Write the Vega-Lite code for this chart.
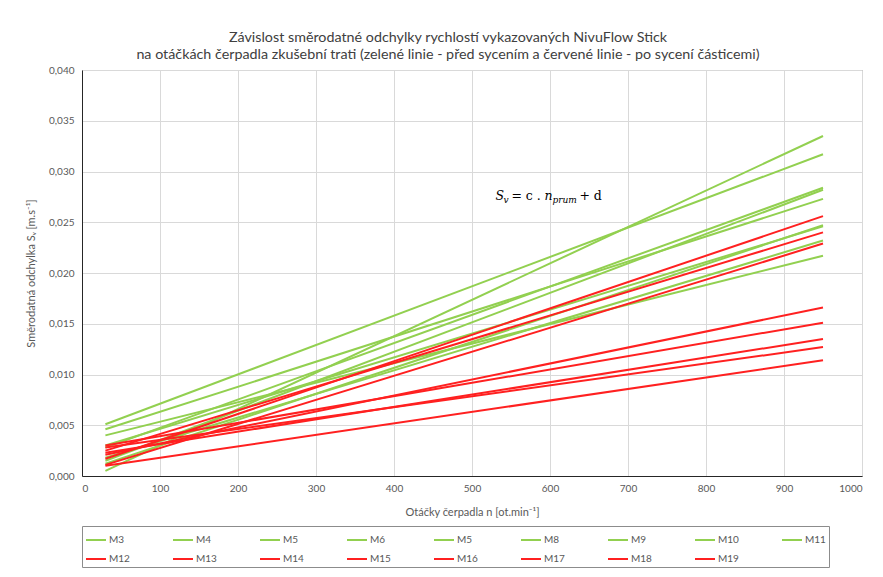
{
  "$schema": "https://vega.github.io/schema/vega-lite/v6.json",
  "autosize": "none",
  "width": 780,
  "height": 406,
  "padding": {"left": 82, "top": 70, "right": 21, "bottom": 101},
  "background": "white",
  "config": {
    "font": "Lato",
    "view": {"stroke": "#8c8c8c", "strokeWidth": 1},
    "axis": {"gridColor": "#d9d9d9", "gridWidth": 1, "ticks": false, "labelColor": "#595959", "labelFontSize": 10, "titleColor": "#595959", "titleFontWeight": "normal", "titleFontSize": 11, "domainColor": "#262626", "labelFont": "Lato", "titleFont": "Lato"}
  },
  "title": {
    "text": ["Závislost směrodatné odchylky rychlostí vykazovaných NivuFlow Stick", "na otáčkách čerpadla zkušební trati (zelené linie - před sycením a červené linie - po sycení částicemi)"],
    "font": "Lato", "fontSize": 14.3, "fontWeight": "normal", "color": "#404040", "anchor": "middle", "offset": 3, "lineHeight": 17, "dx": -24
  },
  "datasets": {
    "lines": [
      {"s": "M3", "n": 30, "sv": 0.0051}, {"s": "M3", "n": 950, "sv": 0.0317},
      {"s": "M4", "n": 30, "sv": 0.0046}, {"s": "M4", "n": 950, "sv": 0.0273},
      {"s": "M5", "n": 30, "sv": 0.0040}, {"s": "M5", "n": 950, "sv": 0.0217},
      {"s": "M6", "n": 30, "sv": 0.0005}, {"s": "M6", "n": 950, "sv": 0.0335},
      {"s": "M7", "n": 30, "sv": 0.0028}, {"s": "M7", "n": 950, "sv": 0.0284},
      {"s": "M8", "n": 30, "sv": 0.0015}, {"s": "M8", "n": 950, "sv": 0.0282},
      {"s": "M9", "n": 30, "sv": 0.0012}, {"s": "M9", "n": 950, "sv": 0.0247},
      {"s": "M10", "n": 30, "sv": 0.0018}, {"s": "M10", "n": 950, "sv": 0.0232},
      {"s": "M11", "n": 30, "sv": 0.0030}, {"s": "M11", "n": 950, "sv": 0.0246},
      {"s": "M12", "n": 30, "sv": 0.0017}, {"s": "M12", "n": 950, "sv": 0.0256},
      {"s": "M13", "n": 30, "sv": 0.0025}, {"s": "M13", "n": 950, "sv": 0.0240},
      {"s": "M14", "n": 30, "sv": 0.0011}, {"s": "M14", "n": 950, "sv": 0.0229},
      {"s": "M15", "n": 30, "sv": 0.0021}, {"s": "M15", "n": 950, "sv": 0.0166},
      {"s": "M16", "n": 30, "sv": 0.0030}, {"s": "M16", "n": 950, "sv": 0.0151},
      {"s": "M17", "n": 30, "sv": 0.0023}, {"s": "M17", "n": 950, "sv": 0.0135},
      {"s": "M18", "n": 30, "sv": 0.0028}, {"s": "M18", "n": 950, "sv": 0.0127},
      {"s": "M19", "n": 30, "sv": 0.0010}, {"s": "M19", "n": 950, "sv": 0.0114}
    ],
    "eq": [
      {"part": "S", "n": 530, "sv": 0.0272}
    ]
  },
  "layer": [
    {
      "data": {"name": "lines"},
      "transform": [{"filter": {"field": "s", "oneOf": ["M3", "M4", "M5", "M6", "M7", "M8", "M9", "M10", "M11"]}}],
      "mark": {"type": "line", "strokeWidth": 2},
      "encoding": {
        "x": {"field": "n", "type": "quantitative", "scale": {"domain": [0, 1000], "nice": false},
          "axis": {"values": [0, 100, 200, 300, 400, 500, 600, 700, 800, 900, 1000], "format": "d", "title": "Otáčky čerpadla n [ot.min⁻¹]", "labelPadding": 7, "titlePadding": 13}},
        "y": {"field": "sv", "type": "quantitative", "scale": {"domain": [0, 0.04], "nice": false},
          "axis": {"values": [0, 0.005, 0.01, 0.015, 0.02, 0.025, 0.03, 0.035, 0.04], "labelExpr": "replace(format(datum.value, '.3f'), '.', ',')", "title": "Směrodatná odchylka Sᵥ [m.s⁻¹]", "labelPadding": 8, "titlePadding": 12}},
        "color": {"field": "s", "type": "nominal",
          "scale": {"domain": ["M3", "M4", "M5", "M6", "M7", "M8", "M9", "M10", "M11", "M12", "M13", "M14", "M15", "M16", "M17", "M18", "M19"],
            "range": ["#92d050", "#92d050", "#92d050", "#92d050", "#92d050", "#92d050", "#92d050", "#92d050", "#92d050", "#ff2020", "#ff2020", "#ff2020", "#ff2020", "#ff2020", "#ff2020", "#ff2020", "#ff2020"]},
          "legend": {"title": null, "orient": "bottom", "direction": "horizontal", "columns": 9, "symbolType": "stroke", "symbolStrokeWidth": 2, "symbolSize": 400, "labelFontSize": 10, "labelColor": "#595959", "labelOffset": 2, "columnPadding": 39, "rowPadding": 3, "padding": 3, "strokeColor": "#8c8c8c", "offset": 9, "labelExpr": "datum.label == 'M7' ? 'M5' : datum.label"}}
      }
    },
    {
      "data": {"name": "lines"},
      "transform": [{"filter": {"field": "s", "oneOf": ["M12", "M13", "M14", "M15", "M16", "M17", "M18", "M19"]}}],
      "mark": {"type": "line", "strokeWidth": 2},
      "encoding": {
        "x": {"field": "n", "type": "quantitative"},
        "y": {"field": "sv", "type": "quantitative"},
        "color": {"field": "s", "type": "nominal"}
      }
    },
    {
      "data": {"name": "eq"},
      "layer": [
        {"mark": {"type": "text", "text": "S", "font": "DejaVu Serif", "fontStyle": "italic", "fontSize": 12.5, "align": "left", "baseline": "alphabetic", "color": "#000000"}},
        {"mark": {"type": "text", "text": "v", "font": "DejaVu Serif", "fontStyle": "italic", "fontSize": 9, "align": "left", "baseline": "alphabetic", "dx": 8, "dy": 3, "color": "#000000"}},
        {"mark": {"type": "text", "text": "= c .", "font": "DejaVu Serif", "fontSize": 12.5, "align": "left", "baseline": "alphabetic", "dx": 16, "color": "#000000"}},
        {"mark": {"type": "text", "text": "n", "font": "DejaVu Serif", "fontStyle": "italic", "fontSize": 12.5, "align": "left", "baseline": "alphabetic", "dx": 49, "color": "#000000"}},
        {"mark": {"type": "text", "text": "prum", "font": "DejaVu Serif", "fontStyle": "italic", "fontSize": 9, "align": "left", "baseline": "alphabetic", "dx": 57, "dy": 3, "color": "#000000"}},
        {"mark": {"type": "text", "text": "+ d", "font": "DejaVu Serif", "fontSize": 12.5, "align": "left", "baseline": "alphabetic", "dx": 84, "color": "#000000"}}
      ],
      "encoding": {
        "x": {"field": "n", "type": "quantitative"},
        "y": {"field": "sv", "type": "quantitative"}
      }
    }
  ]
}
